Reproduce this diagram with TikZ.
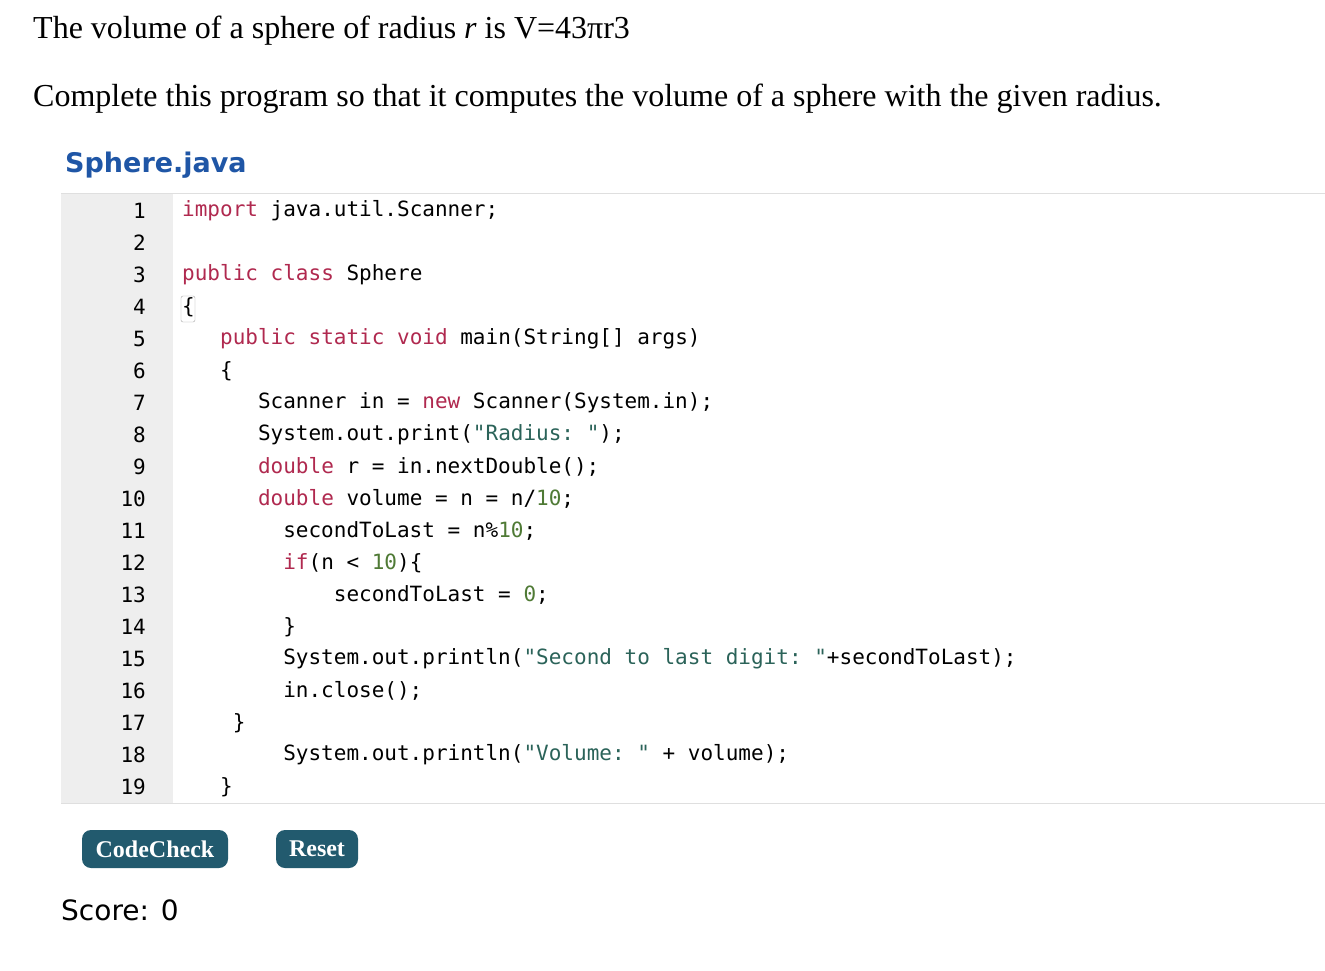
\documentclass[tikz,border=0pt]{standalone}
\usepackage{fontspec}
\setmainfont{Liberation Serif}
\setmonofont{DejaVu Sans Mono}
\newfontfamily\dvs{DejaVu Sans}
\definecolor{kw}{HTML}{B0294F}
\definecolor{st}{HTML}{2B6359}
\definecolor{nm}{HTML}{4F7A35}
\definecolor{btn}{HTML}{225A6E}
\definecolor{gut}{HTML}{EEEEEE}
\definecolor{ttl}{HTML}{1F56A6}
\newcommand\kw[1]{\textcolor{kw}{#1}}
\newcommand\st[1]{\textcolor{st}{#1}}
\newcommand\nm[1]{\textcolor{nm}{#1}}
\begin{document}
\begin{tikzpicture}[x=1pt,y=-1pt,
  code/.style={anchor=west,inner sep=0pt,font=\fontsize{21}{21}\selectfont\ttfamily},
  lnum/.style={anchor=east,inner sep=0pt,font=\fontsize{21}{21}\selectfont\ttfamily},
  btnbox/.style={fill=btn,rounded corners=9pt,text=white,font=\fontsize{24}{24}\selectfont\bfseries,inner sep=0pt,minimum height=38pt}]
\useasboundingbox (0,0) rectangle (1325,970);
\fill[white] (0,0) rectangle (1325,970);
\node[anchor=base west,inner sep=0pt,font=\fontsize{32}{32}\selectfont] (t1) at (33,38) {The volume of a sphere of radius \textit{r} is V=43πr3};
\node[anchor=base west,inner sep=0pt,font=\fontsize{32}{32}\selectfont] (t2) at (33,106) {Complete this program so that it computes the volume of a sphere with the given radius.};
\node[anchor=base west,inner sep=0pt,font=\fontsize{27}{27}\selectfont\dvs\bfseries,text=ttl] (fn) at (65,172) {Sphere.java};
\fill[gut] (61,193) rectangle (173,803);
\draw[gray!25] (61,193) -- (1325,193) (61,803) -- (1325,803);
\foreach \i in {1,...,19} \node[lnum] (n\i) at (146,{211+32*(\i-1)}) {\i};
\def\L#1#2#3{\node[code] (c#1) at ({182+12.64*#2},{211+32*(#1-1)}) {#3};}
\L{1}{0}{\kw{import} java.util.Scanner;}
\L{3}{0}{\kw{public} \kw{class} Sphere}
\L{4}{0}{\{}
\draw[gray!70,rounded corners=2pt] (181,296) rectangle (195,322);
\L{5}{3}{\kw{public} \kw{static} \kw{void} main(String[] args)}
\L{6}{3}{\{}
\L{7}{6}{Scanner in = \kw{new} Scanner(System.in);}
\L{8}{6}{System.out.print(\st{"Radius: "});}
\L{9}{6}{\kw{double} r = in.nextDouble();}
\L{10}{6}{\kw{double} volume = n = n/\nm{10};}
\L{11}{8}{secondToLast = n\%\nm{10};}
\L{12}{8}{\kw{if}(n < \nm{10})\{}
\L{13}{12}{secondToLast = \nm{0};}
\L{14}{8}{\}}
\L{15}{8}{System.out.println(\st{"Second to last digit: "}+secondToLast);}
\L{16}{8}{in.close();}
\L{17}{4}{\}}
\L{18}{8}{System.out.println(\st{"Volume: "} + volume);}
\L{19}{3}{\}}
\node[btnbox,minimum width=146pt] (b1) at (155,849) {CodeCheck};
\node[btnbox,minimum width=82pt] (b2) at (317,849) {Reset};
\node[anchor=base west,inner sep=0pt,font=\fontsize{28}{28}\selectfont\dvs] (sc) at (61,920) {Score: 0};
\end{tikzpicture}
\end{document}
